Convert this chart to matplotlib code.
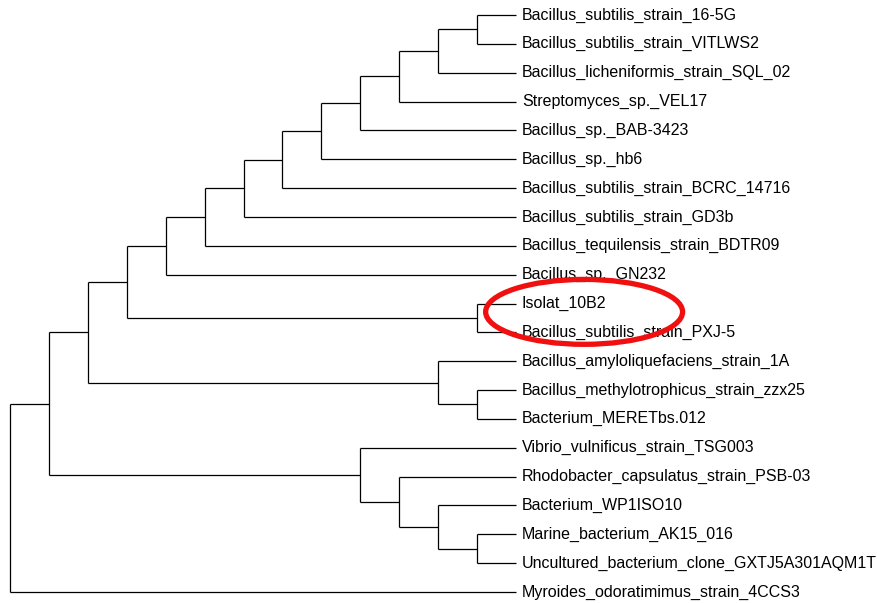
import matplotlib.pyplot as plt
from matplotlib.patches import Ellipse

# Tip labels, top to bottom
labels = [
    "Bacillus_subtilis_strain_16-5G",
    "Bacillus_subtilis_strain_VITLWS2",
    "Bacillus_licheniformis_strain_SQL_02",
    "Streptomyces_sp._VEL17",
    "Bacillus_sp._BAB-3423",
    "Bacillus_sp._hb6",
    "Bacillus_subtilis_strain_BCRC_14716",
    "Bacillus_subtilis_strain_GD3b",
    "Bacillus_tequilensis_strain_BDTR09",
    "Bacillus_sp._GN232",
    "Isolat_10B2",
    "Bacillus_subtilis_strain_PXJ-5",
    "Bacillus_amyloliquefaciens_strain_1A",
    "Bacillus_methylotrophicus_strain_zzx25",
    "Bacterium_MERETbs.012",
    "Vibrio_vulnificus_strain_TSG003",
    "Rhodobacter_capsulatus_strain_PSB-03",
    "Bacterium_WP1ISO10",
    "Marine_bacterium_AK15_016",
    "Uncultured_bacterium_clone_GXTJ5A301AQM1T",
    "Myroides_odoratimimus_strain_4CCS3",
]

# Topology as nested tuples of tip indices
tree = (((((((((((((0, 1), 2), 3), 4), 5), 6), 7), 8), 9), (10, 11)),
           (12, (13, 14))),
          (15, (16, (17, (18, 19))))),
         20)

# Tips to circle
highlight = (10, 11)


def layout(node, segs):
    """Return (subtree height, y); collect segments as (h0, y0, h1, y1)."""
    if isinstance(node, int):
        return 0, float(node)
    kids = [layout(c, segs) for c in node]
    h = 1 + max(k[0] for k in kids)
    ys = [k[1] for k in kids]
    y = (min(ys) + max(ys)) / 2
    segs.append((h, min(ys), h, max(ys)))
    for kh, ky in kids:
        segs.append((h, ky, kh, ky))
    return h, y


segs = []
H, _ = layout(tree, segs)

fig = plt.figure(figsize=(8.78, 6.03), dpi=100)
ax = fig.add_axes([0, 0, 1, 1])
ax.axis("off")

for h0, y0, h1, y1 in segs:
    ax.plot([H - h0, H - h1], [y0, y1], color="black", lw=0.9,
            solid_capstyle="butt")

for i, name in enumerate(labels):
    ax.annotate(name, (H, i), xytext=(6, 0), textcoords="offset pixels",
                va="center", ha="left", fontsize=11.5,
                family=["Liberation Sans", "DejaVu Sans"])

# Red ring around the new isolate and its closest match
cy = sum(highlight) / 2 - 0.21
ax.add_patch(Ellipse((H + 1.75, cy), 5.06, 2.25, fill=False,
                     edgecolor="#f01010", lw=3.8, zorder=5))

# x: one unit per level, root at 10 px, tips at 516 px
step_x = 506 / H
x0 = -10 / step_x
ax.set_xlim(x0, x0 + 878 / step_x)
step_y = 577 / 20
y0 = -15 / step_y
ax.set_ylim(y0 + 603 / step_y, y0)

fig.savefig("out.png", dpi=100)
